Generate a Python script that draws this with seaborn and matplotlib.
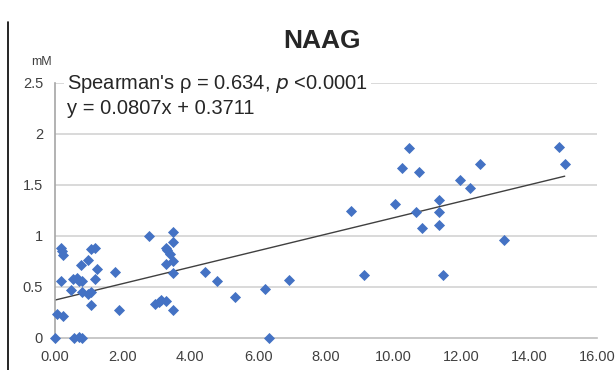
import numpy as np
import pandas as pd
import matplotlib.pyplot as plt
from matplotlib.lines import Line2D
import seaborn as sns

sns.set_style("white")
plt.rcParams["font.family"] = ["Liberation Sans", "DejaVu Sans"]

# Data
x_vals = [0.00, 0.18, 0.21, 0.23, 0.19, 0.05, 0.23, 0.47, 0.54, 0.64, 0.72, 0.80,
          0.78, 0.98, 0.80, 0.98, 1.08, 1.08, 1.19, 1.25, 1.18, 1.08, 1.79, 1.88,
          0.58, 0.72, 0.80, 2.79, 3.49, 3.49, 3.27, 3.32, 3.41, 3.49, 3.27, 3.49,
          4.42, 4.80, 5.33, 6.20, 6.92, 6.32, 2.97, 3.07, 3.13, 3.29, 3.48,
          8.74, 9.14, 10.05, 10.44, 10.24, 10.74, 10.65, 10.85, 11.34, 11.34, 11.34,
          11.45, 11.95, 12.25, 12.55, 13.25, 14.88, 15.05]
y_vals = [0.00, 0.885, 0.85, 0.81, 0.56, 0.235, 0.215, 0.47, 0.575, 0.585, 0.56, 0.56,
          0.72, 0.76, 0.45, 0.43, 0.45, 0.87, 0.885, 0.68, 0.575, 0.32, 0.645, 0.275,
          0.00, 0.01, 0.00, 1.00, 1.04, 0.94, 0.885, 0.86, 0.82, 0.755, 0.725, 0.64,
          0.65, 0.555, 0.405, 0.48, 0.565, 0.00, 0.33, 0.355, 0.37, 0.365, 0.275,
          1.24, 0.62, 1.31, 1.86, 1.67, 1.63, 1.23, 1.08, 1.35, 1.235, 1.11,
          0.62, 1.55, 1.47, 1.705, 0.96, 1.875, 1.705]
slope = 0.0807
intercept = 0.3711

df = pd.DataFrame({"x": x_vals, "y": y_vals})

fig = plt.figure(figsize=(6.16, 3.70), dpi=100)
ax = fig.add_axes([0.089, 0.0865, 0.880, 0.6895])

grid_c = "#d9d9d9"
for yv in [0.5, 1.0, 1.5, 2.0, 2.5]:
    ax.axhline(yv, color=grid_c, lw=1.4, zorder=0)

sns.scatterplot(data=df, x="x", y="y", marker="D", s=32, color="#4472c4",
                linewidth=0, ax=ax, zorder=3, clip_on=False)

# trendline from the fitted equation
line_x = np.array([0.0, max(x_vals)])
sns.lineplot(x=line_x, y=slope * line_x + intercept, color="#404040", lw=1.0,
             ax=ax, zorder=2)

ax.set_xlim(0, 16)
ax.set_ylim(0, 2.5)
ax.set_xticks(np.arange(0, 17, 2))
ax.set_xticklabels([f"{v:.2f}" for v in np.arange(0, 17, 2)])
ax.set_yticks([0, 0.5, 1, 1.5, 2, 2.5])
ax.set_yticklabels(["0", "0.5", "1", "1.5", "2", "2.5"])
ax.set_xlabel("")
ax.set_ylabel("")

for s in ["top", "right"]:
    ax.spines[s].set_visible(False)
ax.spines["left"].set_color("#a6a6a6")
ax.spines["bottom"].set_color("#bfbfbf")
ax.spines["left"].set_linewidth(1.2)
ax.spines["bottom"].set_linewidth(1.2)
ax.tick_params(axis="both", direction="out", length=5, width=1.0, colors="#a6a6a6",
               labelcolor="#404040", labelsize=10.5)
ax.tick_params(axis="x", pad=4)

fig.text(0.523, 0.89, "NAAG", ha="center", va="center", fontsize=19, fontweight="bold")
fig.text(0.068, 0.832, "mM", ha="center", va="center", fontsize=9, color="#404040")

fig.text(0.109, 0.742, "Spearman's \u03c1 = 0.634, $\\it{p}$ <0.0001\ny = 0.0807x + 0.3711",
         ha="left", va="center", fontsize=14.5, linespacing=1.22,
         bbox=dict(facecolor="white", edgecolor="none", pad=2))

fig.add_artist(Line2D([0.013, 0.013], [0.0, 0.94], color="black", lw=1.2))

fig.savefig("out.png", dpi=100)
